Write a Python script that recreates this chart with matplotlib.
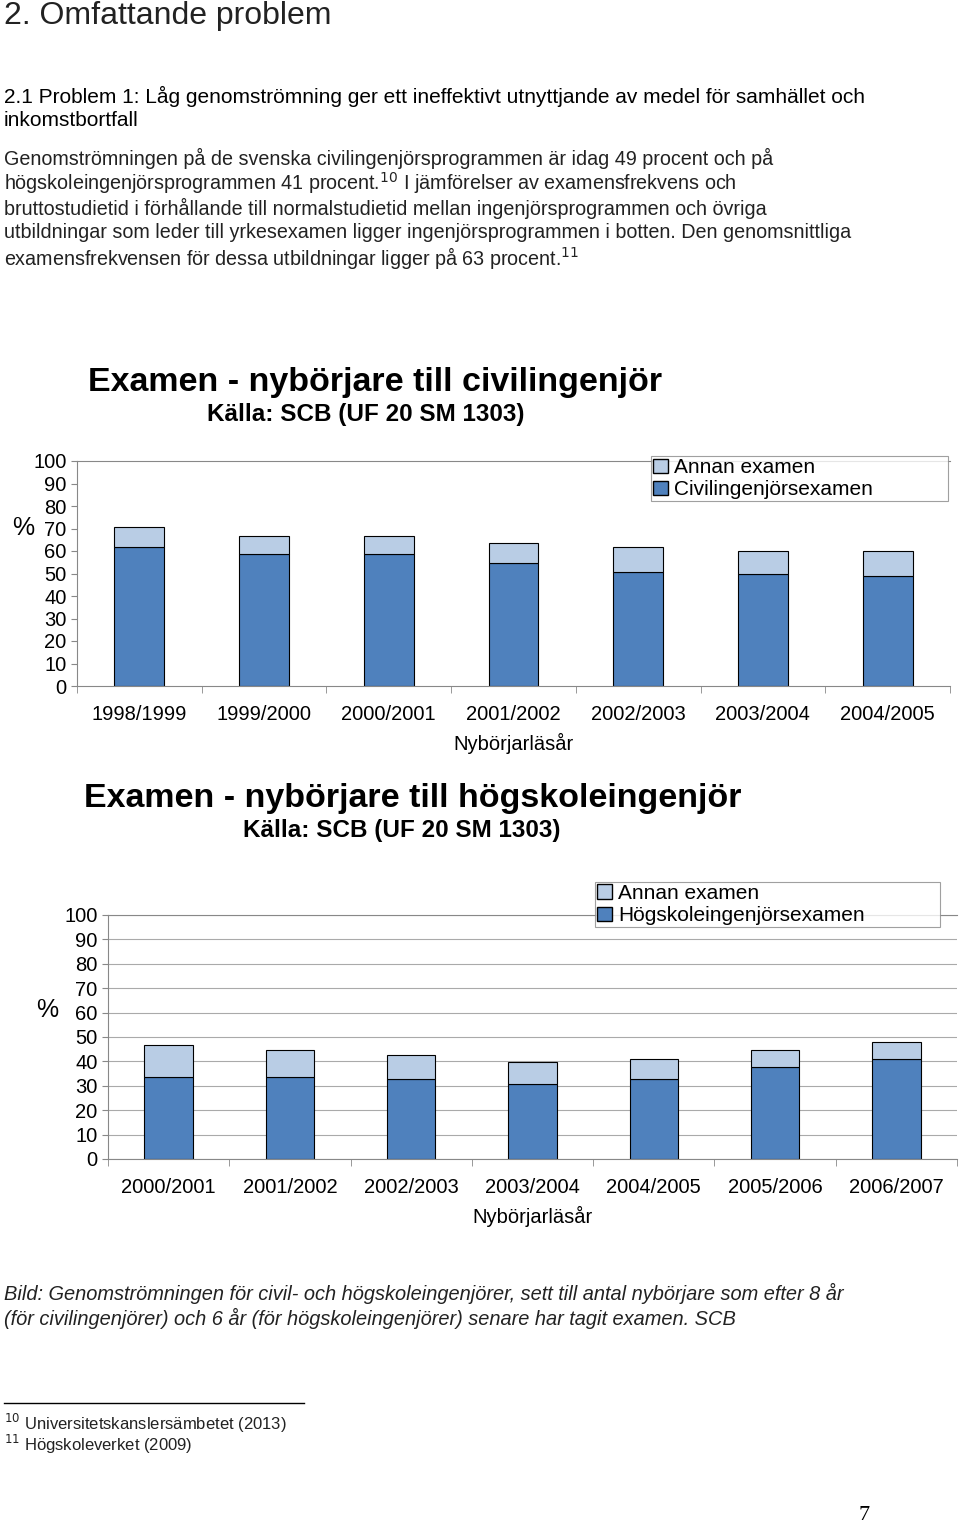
import matplotlib
matplotlib.use("Agg")
import matplotlib.pyplot as plt
from matplotlib.patches import Patch

plt.rcParams["font.family"] = "Liberation Sans"

years1 = ["1998/1999", "1999/2000", "2000/2001", "2001/2002", "2002/2003", "2003/2004", "2004/2005"]
civ = [61.8, 58.7, 58.7, 54.7, 50.7, 49.8, 48.9]
annan1 = [8.9, 8.0, 8.0, 8.9, 11.1, 10.2, 11.1]

years2 = ["2000/2001", "2001/2002", "2002/2003", "2003/2004", "2004/2005", "2005/2006", "2006/2007"]
hog = [33.6, 33.6, 32.8, 30.7, 32.8, 37.7, 41.0]
annan2 = [13.1, 11.1, 9.8, 9.1, 8.2, 7.0, 7.0]

yticks = list(range(0, 101, 10))
BLUE = "#4F81BD"
LIGHT = "#B9CDE5"
W, H = 960, 1526

fig = plt.figure(figsize=(9.6, 15.26), dpi=100)

def T(x, y, s, **kw):
    fig.text(x / W, 1 - y / H, s, **kw)

T(4, 16, "2. Omfattande problem", fontsize=23, va="center", color="#222")
T(4, 96, "2.1 Problem 1: Låg genomströmning ger ett ineffektivt utnyttjande av medel för samhället och", fontsize=15, va="center")
T(4, 121, "inkomstbortfall", fontsize=15, va="center")
para = ["Genomströmningen på de svenska civilingenjörsprogrammen är idag 49 procent och på",
        "högskoleingenjörsprogrammen 41 procent.$^{10}$ I jämförelser av examensfrekvens och",
        "bruttostudietid i förhållande till normalstudietid mellan ingenjörsprogrammen och övriga",
        "utbildningar som leder till yrkesexamen ligger ingenjörsprogrammen i botten. Den genomsnittliga",
        "examensfrekvensen för dessa utbildningar ligger på 63 procent.$^{11}$"]
for i, l in enumerate(para):
    T(4, 158 + i * 25, l, fontsize=14.2, va="center", color="#222")

def chart(x0, x1, yb, yt, cats, a, b, la, lb, legbox, title, sub, tx, ty, sx, sy, pct, grid):
    ax = fig.add_axes([x0 / W, 1 - yb / H, (x1 - x0) / W, (yb - yt) / H])
    xs = range(len(cats))
    ax.bar(xs, a, 0.4, color=BLUE, edgecolor="black", linewidth=0.8)
    ax.bar(xs, b, 0.4, bottom=a, color=LIGHT, edgecolor="black", linewidth=0.8)
    ax.set_xlim(-0.5, len(cats) - 0.5)
    ax.set_ylim(0, 100)
    ax.set_yticks(yticks)
    ax.set_yticklabels([str(v) for v in yticks], fontsize=14.5)
    ax.set_xticks(list(xs))
    ax.set_xticklabels(cats, fontsize=14.5)
    ax.set_xticks([i - 0.5 for i in range(len(cats) + 1)], minor=True)
    ax.tick_params(axis="x", which="major", length=0, pad=14)
    ax.tick_params(axis="x", which="minor", length=5, color="#888")
    ax.tick_params(axis="y", length=4, color="#888")
    ax.spines["right"].set_visible(False)
    for s in ["left", "bottom", "top"]:
        ax.spines[s].set_color("#888")
    if grid:
        ax.yaxis.grid(True, color="#aaa", linewidth=0.8)
        ax.set_axisbelow(True)
    ax.set_xlabel("Nybörjarläsår", fontsize=14.5, labelpad=6)
    T(tx, ty, title, fontsize=24.5, fontweight="bold", va="center")
    T(sx, sy, sub, fontsize=17.5, fontweight="bold", va="center")
    T(pct[0], pct[1], "%", fontsize=18, va="center")
    lx0, ly0, lx1, ly1 = legbox
    leg = fig.legend([Patch(facecolor=LIGHT, edgecolor="black"), Patch(facecolor=BLUE, edgecolor="black")],
                     [lb, la], loc="upper left",
                     bbox_to_anchor=(lx0 / W, 1 - ly1 / H, (lx1 - lx0) / W, (ly1 - ly0) / H),
                     mode="expand", fontsize=15, fancybox=False, edgecolor="#888",
                     handlelength=0.7, handleheight=0.7, handletextpad=0.3, borderpad=0.1,
                     labelspacing=0.15, borderaxespad=0)
    leg.get_frame().set_linewidth(0.8)
    leg._legend_box.align = "left"

chart(77, 950, 686, 461, years1, civ, annan1, "Civilingenjörsexamen", "Annan examen",
      (651, 456, 948, 502), "Examen - nybörjare till civilingenjör", "Källa: SCB (UF 20 SM 1303)",
      88, 382, 207, 415, (12, 528), False)
chart(108, 957, 1159, 915, years2, hog, annan2, "Högskoleingenjörsexamen", "Annan examen",
      (595, 882, 940, 935), "Examen - nybörjare till högskoleingenjör", "Källa: SCB (UF 20 SM 1303)",
      84, 798, 243, 831, (36, 1010), True)

T(4, 1293, "Bild: Genomströmningen för civil- och högskoleingenjörer, sett till antal nybörjare som efter 8 år", fontsize=14.4, style="italic", va="center", color="#222")
T(4, 1318, "(för civilingenjörer) och 6 år (för högskoleingenjörer) senare har tagit examen. SCB", fontsize=14.4, style="italic", va="center", color="#222")
fig.add_artist(plt.Line2D([4 / W, 304 / W], [1 - 1403 / H] * 2, color="black", linewidth=1))
T(4, 1423, "$^{10}$ Universitetskanslersämbetet (2013)", fontsize=12, va="center", color="#222")
T(4, 1444, "$^{11}$ Högskoleverket (2009)", fontsize=12, va="center", color="#222")
T(858, 1515, "7", fontsize=16, va="center", family="Liberation Serif")

fig.savefig("out.png", dpi=100)
